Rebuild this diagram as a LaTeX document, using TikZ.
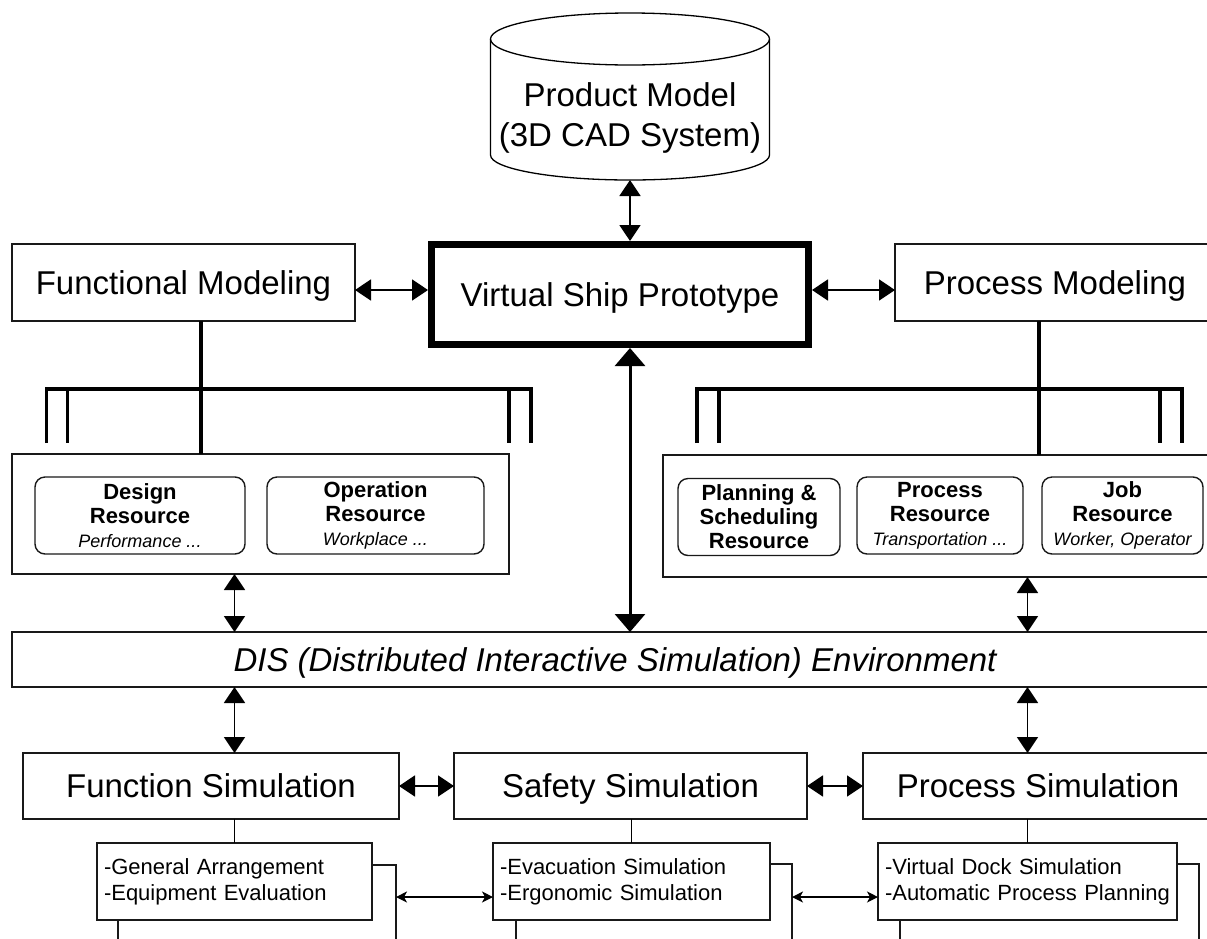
\documentclass[tikz,border=0pt]{standalone}
\usepackage{fontspec}
\setmainfont{Liberation Sans}
\usetikzlibrary{arrows.meta}
\begin{document}
\begin{tikzpicture}[x=1pt,y=-1pt,
  box/.style={draw=black!90, line width=1.3pt, fill=white, inner sep=0pt, outer sep=0pt},
  bigtext/.style={font=\fontsize{33pt}{40pt}\selectfont, text height=24pt, text depth=0.5pt},
  res/.style={draw=black!90, line width=1.4pt, rounded corners=10pt, align=center, inner sep=0pt, outer sep=0pt, minimum height=77pt, font=\fontsize{22pt}{24pt}\selectfont\bfseries},
  subbox/.style={box, align=left, inner xsep=7pt, minimum height=77pt, font=\fontsize{22pt}{26pt}\selectfont},
  dbl/.style={{Triangle[length=16pt,width=21pt]}-{Triangle[length=16pt,width=21pt]}, line width=1.8pt},
  thickdbl/.style={{Triangle[length=18pt,width=30pt]}-{Triangle[length=18pt,width=30pt]}, line width=3pt},
  smalldbl/.style={{Stealth[length=11pt,width=11pt,inset=3pt]}-{Stealth[length=11pt,width=11pt,inset=3pt]}, line width=1.2pt},
  bus/.style={line width=3.2pt},
  link/.style={line width=1.3pt}
]
\newcommand{\resnote}[1]{{\fontsize{18pt}{24pt}\selectfont\mdseries\itshape #1}}
\useasboundingbox (0,0) rectangle (1207,938);
\clip (0,0) rectangle (1207,938);

% ---- Product model cylinder
\node[inner sep=0pt, outer sep=0pt, minimum width=279pt, minimum height=167pt] (cyl) at (630,96.5) {};
\draw[line width=1.3pt] (630,39) ellipse [x radius=139.5, y radius=26];
\draw[line width=1.3pt] (490.5,39) -- (490.5,155)
  .. controls (490.5,168.8) and (553,180) .. (630,180)
  .. controls (707,180) and (769.5,168.8) .. (769.5,155) -- (769.5,39);
\node[align=center, font=\fontsize{33pt}{40pt}\selectfont] (pmtext) at (630,118) {Product Model\\(3D CAD System)};

% ---- Virtual ship prototype
\node[draw=black, line width=7pt, fill=white, inner sep=0pt, minimum width=377pt, minimum height=100pt, bigtext] (vsp) at (620,294.5) {Virtual Ship Prototype};

% ---- Modeling boxes
\node[box, minimum width=343pt, minimum height=77pt, bigtext] (fm) at (183.5,282.5) {Functional Modeling};
\node[box, minimum width=320pt, minimum height=77pt, bigtext] (pm) at (1055,282.5) {Process Modeling};

% ---- Resource groups
\node[box, minimum width=497pt, minimum height=120pt] (lg) at (260.5,514) {};
\node[box, minimum width=555pt, minimum height=122pt] (rg) at (940.5,516) {};

\node[res, minimum width=210pt] (r1) at (140,515.5) {Design\\Resource\\\resnote{Performance ...}};
\node[res, minimum width=217pt] (r2) at (375.5,515.5) {Operation\\Resource\\\resnote{Workplace ...}};
\node[res, minimum width=162pt] (r3) at (759,517) {Planning \&\\Scheduling\\Resource};
\node[res, minimum width=166pt] (r4) at (940,515.5) {Process\\Resource\\\resnote{Transportation ...}};
\node[res, minimum width=161pt] (r5) at (1122.5,515.5) {Job\\Resource\\\resnote{Worker, Operator}};

% ---- DIS
\node[box, minimum width=1206pt, minimum height=55pt, font=\fontsize{33pt}{40pt}\selectfont\itshape, text height=24pt, text depth=0.5pt] (dis) at (615,659.5)
  {DIS (Distributed Interactive Simulation) Environment};

% ---- Simulations
\node[box, minimum width=376pt, minimum height=66pt, bigtext] (fs) at (211,786) {Function Simulation};
\node[box, minimum width=353pt, minimum height=66pt, bigtext] (ss) at (630.5,786) {Safety Simulation};
\node[box, minimum width=350pt, minimum height=66pt, bigtext] (ps) at (1038,786) {Process Simulation};

% ---- sub boxes (back then front)
\node[box, minimum width=278pt, minimum height=95pt] (ba) at (257,912.5) {};
\node[box, minimum width=276pt, minimum height=96pt] (bb) at (654,912) {};
\node[box, minimum width=299pt, minimum height=96pt] (bc) at (1049.5,912) {};

\node[subbox, text width=261pt] (sa) at (234.5,881.5) {-General Arrangement\\-Equipment Evaluation};
\node[subbox, text width=263pt] (sb) at (631.5,881.5) {-Evacuation Simulation\\-Ergonomic Simulation};
\node[subbox, text width=285pt] (sc) at (1027.5,881.5) {-Virtual Dock Simulation\\-Automatic Process Planning};

% ---- buses
\coordinate (lbus) at (201,389);
\coordinate (rbus) at (1039,389);
\draw[bus] (fm.south -| lbus) -- (lg.north -| lbus);
\draw[bus] (46.5,443) -- (46.5,389) -- (531,389) -- (531,443);
\draw[bus] (67.7,389) -- (67.7,443);
\draw[bus] (509,389) -- (509,443);
\draw[bus] (pm.south -| rbus) -- (rg.north -| rbus);
\draw[bus] (697,443) -- (697,389) -- (1182,389) -- (1182,443);
\draw[bus] (719,389) -- (719,443);
\draw[bus] (1160,389) -- (1160,443);

% ---- arrows
\coordinate (hrow) at (0,290);
\draw[dbl] (cyl.south) -- (cyl.south |- vsp.north);
\draw[dbl] (fm.east |- hrow) -- (vsp.west |- hrow);
\draw[dbl] (vsp.east |- hrow) -- (pm.west |- hrow);
\draw[thickdbl] (vsp.south -| cyl.south) -- (dis.north -| cyl.south);
\draw[dbl] (lg.south -| sa.north) -- (dis.north -| sa.north);
\draw[dbl] (dis.south -| sa.north) -- (fs.north -| sa.north);
\draw[dbl] (rg.south -| sc.north) -- (dis.north -| sc.north);
\draw[dbl] (dis.south -| sc.north) -- (ps.north -| sc.north);
\draw[dbl] (fs.east) -- (ss.west);
\draw[dbl] (ss.east) -- (ps.west);

\draw[link] (fs.south -| sa.north) -- (sa.north);
\draw[link] (ss.south -| sb.north) -- (sb.north);
\draw[link] (ps.south -| sc.north) -- (sc.north);

\coordinate (srow) at (0,897);
\draw[smalldbl] (ba.east |- srow) -- (sb.west |- srow);
\draw[smalldbl] (bb.east |- srow) -- (sc.west |- srow);
\end{tikzpicture}
\end{document}
